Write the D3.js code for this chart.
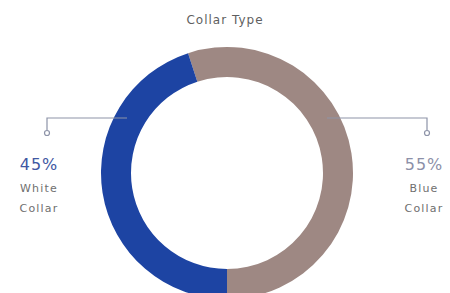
<!DOCTYPE html>
<meta charset="utf-8">
<style>
body { margin: 0; background: #fff; }
svg { display: block; font-family: "DejaVu Sans", sans-serif; }
.title { font-size: 12px; fill: #5f5f5f; letter-spacing: 1px; }
.pct { font-size: 16px; letter-spacing: 1px; }
.lbl { font-size: 11px; fill: #6f6f6f; letter-spacing: 1.2px; }
</style>
<svg width="450" height="293"></svg>
<script src="https://d3js.org/d3.v7.min.js"></script>
<script>

// data
var categories = ["Blue Collar", "White Collar"];
var values = [55, 45];
var pctLabels = ["55%", "45%"];
var nameLines = [["Blue", "Collar"], ["White", "Collar"]];
var colors = ["#9e8883", "#1d44a3"];
var pctColors = ["#8c90a8", "#4058a2"];

var svg = d3.select("svg"),
    cx = 227, cy = 173,
    outerR = 126, innerR = 96;

svg.append("text")
    .attr("class", "title")
    .attr("x", 225)
    .attr("y", 24)
    .attr("text-anchor", "middle")
    .text("Collar Type");

var pie = d3.pie()
    .sort(null)
    .startAngle(-Math.PI / 10)
    .endAngle(2 * Math.PI - Math.PI / 10);

var arc = d3.arc().innerRadius(innerR).outerRadius(outerR);

var g = svg.append("g").attr("transform", "translate(" + cx + "," + cy + ")");

// leader lines (behind ring)
var lineY = 118, markY = 133;
var sides = [
  { i: 0, x0: cx + 100, x1: 427, tx: 424 },
  { i: 1, x0: cx - 100, x1: 47, tx: 39 }
];

sides.forEach(function (s) {
  svg.append("path")
      .attr("d", "M" + s.x0 + "," + lineY + "H" + s.x1 + "V" + (markY - 2.5))
      .attr("fill", "none")
      .attr("stroke", "#8d93a8")
      .attr("stroke-width", 1.2);
  svg.append("circle")
      .attr("cx", s.x1).attr("cy", markY).attr("r", 2.5)
      .attr("fill", "#fff")
      .attr("stroke", "#8d93a8")
      .attr("stroke-width", 1.2);
  svg.append("text")
      .attr("class", "pct")
      .attr("x", s.tx).attr("y", 170)
      .attr("text-anchor", "middle")
      .attr("fill", pctColors[s.i])
      .text(pctLabels[s.i]);
  svg.append("text")
      .attr("class", "lbl")
      .attr("text-anchor", "middle")
    .selectAll("tspan")
    .data(nameLines[s.i])
    .join("tspan")
      .attr("x", s.tx)
      .attr("y", (d, j) => 192 + j * 20)
      .text(d => d);
});

g.selectAll("path")
  .data(pie(values))
  .join("path")
    .attr("d", arc)
    .attr("fill", (d, i) => colors[i]);

</script>
